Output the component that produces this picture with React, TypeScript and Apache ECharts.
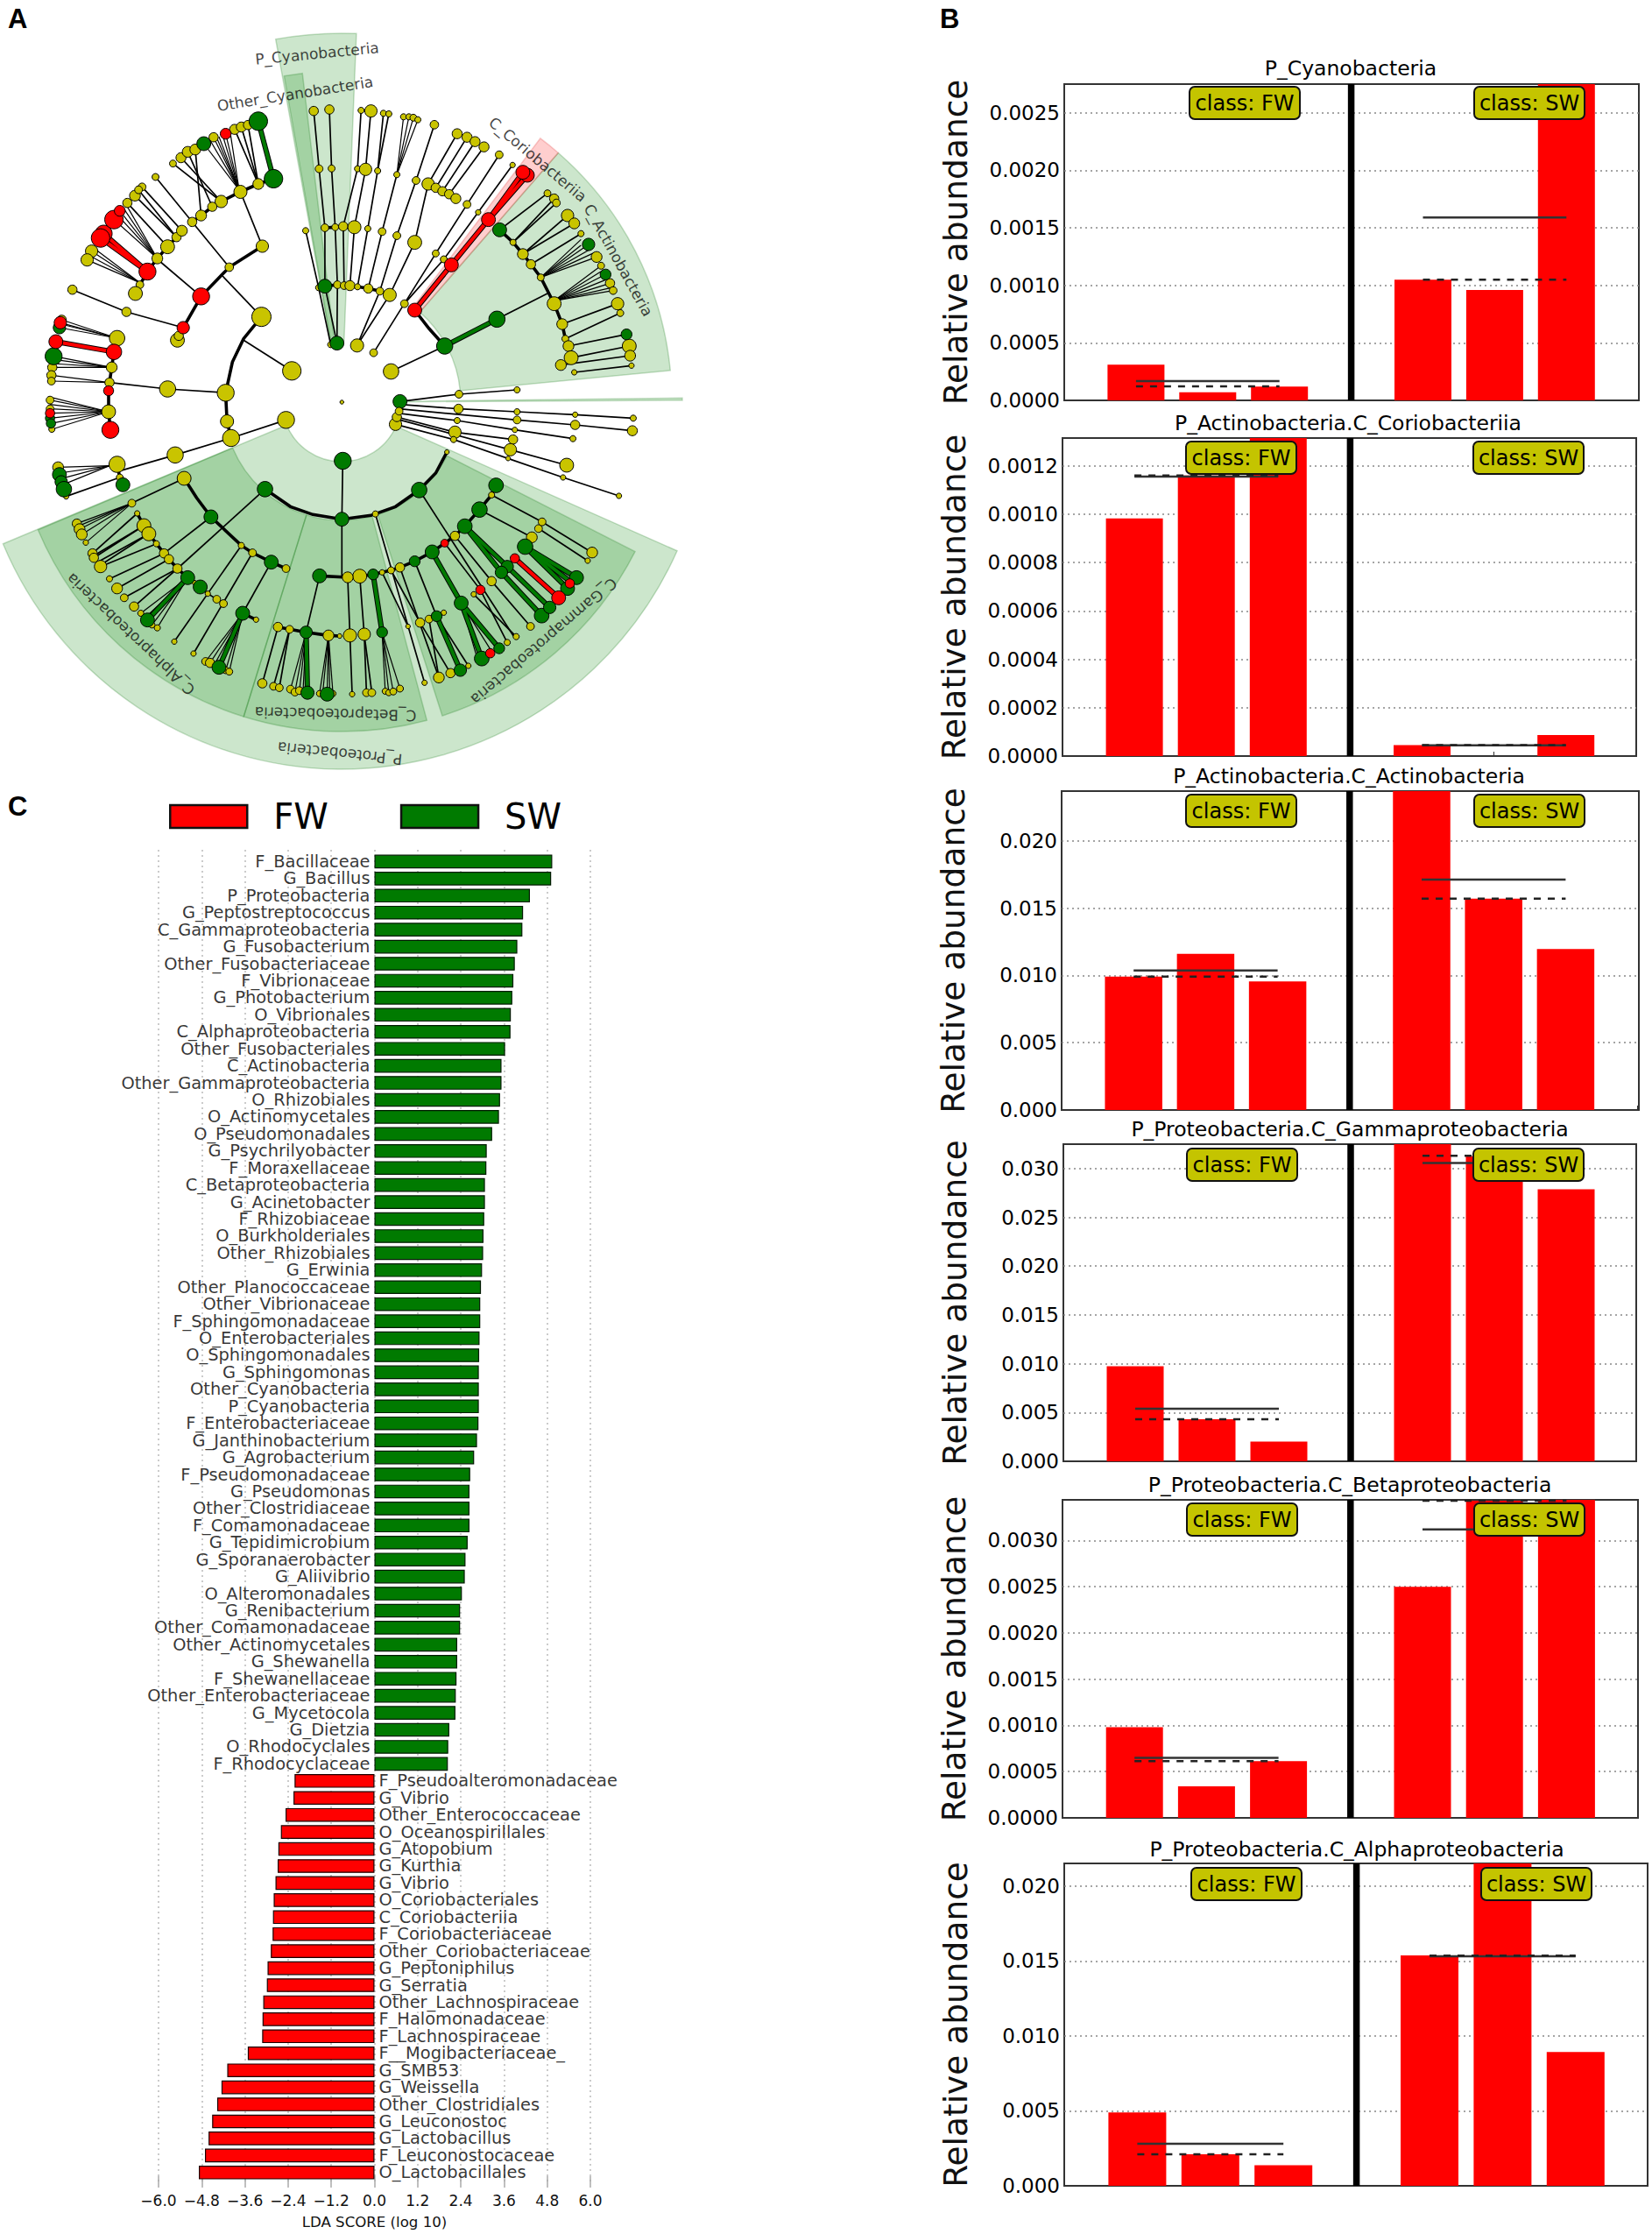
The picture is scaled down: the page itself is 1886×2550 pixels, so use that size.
import React, { useEffect, useRef } from "react";
import * as echarts from "echarts";

const FONT = "DejaVu Sans";
const YEL = "#c9c400";
const GRN = "#007a00";
const RED = "#ff0000";

// ---------- Panel C data ----------
const swTaxa = ["F_Bacillaceae","G_Bacillus","P_Proteobacteria","G_Peptostreptococcus","C_Gammaproteobacteria","G_Fusobacterium","Other_Fusobacteriaceae","F_Vibrionaceae","G_Photobacterium","O_Vibrionales","C_Alphaproteobacteria","Other_Fusobacteriales","C_Actinobacteria","Other_Gammaproteobacteria","O_Rhizobiales","O_Actinomycetales","O_Pseudomonadales","G_Psychrilyobacter","F_Moraxellaceae","C_Betaproteobacteria","G_Acinetobacter","F_Rhizobiaceae","O_Burkholderiales","Other_Rhizobiales","G_Erwinia","Other_Planococcaceae","Other_Vibrionaceae","F_Sphingomonadaceae","O_Enterobacteriales","O_Sphingomonadales","G_Sphingomonas","Other_Cyanobacteria","P_Cyanobacteria","F_Enterobacteriaceae","G_Janthinobacterium","G_Agrobacterium","F_Pseudomonadaceae","G_Pseudomonas","Other_Clostridiaceae","F_Comamonadaceae","G_Tepidimicrobium","G_Sporanaerobacter","G_Aliivibrio","O_Alteromonadales","G_Renibacterium","Other_Comamonadaceae","Other_Actinomycetales","G_Shewanella","F_Shewanellaceae","Other_Enterobacteriaceae","G_Mycetocola","G_Dietzia","O_Rhodocyclales","F_Rhodocyclaceae"];
const swScores = [4.94,4.91,4.32,4.13,4.11,3.97,3.90,3.86,3.83,3.79,3.78,3.63,3.53,3.53,3.49,3.46,3.27,3.12,3.11,3.07,3.07,3.05,3.03,3.02,2.99,2.96,2.94,2.94,2.92,2.91,2.90,2.90,2.90,2.89,2.85,2.77,2.66,2.64,2.64,2.64,2.59,2.53,2.51,2.43,2.38,2.38,2.30,2.30,2.28,2.26,2.25,2.08,2.05,2.04];
const fwTaxa = ["F_Pseudoalteromonadaceae","G_Vibrio","Other_Enterococcaceae","O_Oceanospirillales","G_Atopobium","G_Kurthia","G_Vibrio","O_Coriobacteriales","C_Coriobacteriia","F_Coriobacteriaceae","Other_Coriobacteriaceae","G_Peptoniphilus","G_Serratia","Other_Lachnospiraceae","F_Halomonadaceae","F_Lachnospiraceae","F__Mogibacteriaceae_","G_SMB53","G_Weissella","Other_Clostridiales","G_Leuconostoc","G_Lactobacillus","F_Leuconostocaceae","O_Lactobacillales"];
const fwScores = [-2.22,-2.25,-2.47,-2.60,-2.67,-2.69,-2.75,-2.80,-2.82,-2.83,-2.88,-2.97,-2.99,-3.09,-3.11,-3.12,-3.52,-4.09,-4.25,-4.37,-4.51,-4.61,-4.71,-4.88];

// ---------- Panel B data ----------
const barSlots = [1, 2, 3, 5, 6, 7];
const cyanoBars = [0.00031, 0.00007, 0.00012, 0.00105, 0.00096, 0.00276];
const cyanoMean = [0.000168, 0.00159];
const cyanoMedian = [0.000122, 0.00105];
const corioBars = [0.000983, 0.00116, 0.00134, 0.000045, 0, 0.000087];
const corioMean = [0.001156, 0.000044];
const corioMedian = [0.00116, 0.000045];
const actinoBars = [0.00992, 0.0116, 0.00955, 0.0237, 0.01571, 0.01196];
const actinoMean = [0.01037, 0.01712];
const actinoMedian = [0.00992, 0.01571];
const gammaBars = [0.00974, 0.0043, 0.00203, 0.0325, 0.03126, 0.02788];
const gammaMean = [0.00538, 0.03057];
const gammaMedian = [0.0043, 0.0313];
const betaBars = [0.00098, 0.00034, 0.000614, 0.0025, 0.00343, 0.00345];
const betaMean = [0.00065, 0.00312];
const betaMedian = [0.000614, 0.00343];
const alphaBars = [0.00489, 0.0021, 0.00138, 0.01537, 0.0216, 0.00892];
const alphaMean = [0.0028, 0.01531];
const alphaMedian = [0.0021, 0.01535];

const panels = [
  { title: "P_Cyanobacteria", bars: cyanoBars, mean: cyanoMean, median: cyanoMedian, yMax: 0.00275, step: 0.0005, digits: 4, left: 1215, right: 1871, top: 96, bottom: 457, pitch: 81.9, barW: 65, titleX: 1542, titleY: 80, fwBox: 1358, swBox: 1683, boxY: 99 },
  { title: "P_Actinobacteria.C_Coriobacteriia", bars: corioBars, mean: corioMean, median: corioMedian, yMax: 0.001315, step: 0.0002, digits: 4, left: 1213, right: 1868, top: 500, bottom: 863, pitch: 82.1, barW: 65, titleX: 1539, titleY: 485, fwBox: 1354, swBox: 1682, boxY: 504 },
  { title: "P_Actinobacteria.C_Actinobacteria", bars: actinoBars, mean: actinoMean, median: actinoMedian, yMax: 0.0237, step: 0.005, digits: 3, left: 1212, right: 1871, top: 903, bottom: 1267, pitch: 82.2, barW: 65.5, titleX: 1540, titleY: 888, fwBox: 1354, swBox: 1683, boxY: 907 },
  { title: "P_Proteobacteria.C_Gammaproteobacteria", bars: gammaBars, mean: gammaMean, median: gammaMedian, yMax: 0.0325, step: 0.005, digits: 3, left: 1214, right: 1868, top: 1306, bottom: 1668, pitch: 82, barW: 65, titleX: 1541, titleY: 1291, fwBox: 1355, swBox: 1682, boxY: 1311 },
  { title: "P_Proteobacteria.C_Betaproteobacteria", bars: betaBars, mean: betaMean, median: betaMedian, yMax: 0.00344, step: 0.0005, digits: 4, left: 1213, right: 1870, top: 1712, bottom: 2075, pitch: 82.2, barW: 65, titleX: 1541, titleY: 1697, fwBox: 1355, swBox: 1683, boxY: 1716 },
  { title: "P_Proteobacteria.C_Alphaproteobacteria", bars: alphaBars, mean: alphaMean, median: alphaMedian, yMax: 0.0215, step: 0.005, digits: 3, left: 1215, right: 1881, top: 2127, bottom: 2495, pitch: 83.4, barW: 66, titleX: 1549, titleY: 2113, fwBox: 1360, swBox: 1691, boxY: 2132 },
];

// ---------- Panel A data: sectors [startDeg, endDeg, r0, r1, kind] ----------
const cladeCentre = [390, 459];
const cladeSectors: [number, number, number, number, string][] = [
  [23.9, 157.3, 68, 419, "g"],
  [107.3, 157.2, 135, 376, "g"],
  [75, 107.3, 135, 376, "g"],
  [27, 72.2, 135, 376, "g"],
  [-49, -5.5, 136, 377, "g"],
  [-53, -49, 137, 377, "r"],
  [-0.7, -0.3, 70, 389, "g"],
  [-100.3, -87.7, 70, 421, "g"],
  [-100, -96.8, 70, 378, "g"],
];
const cladeLabels: [string, number, number, number][] = [
  ["P_Cyanobacteria", 362, 61, 5.5],
  ["Other_Cyanobacteria", 337, 107, 9],
  ["C_Coriobacteriia", 614, 182, -40],
  ["C_Actinobacteria", 706, 297, -61],
  ["P_Proteobacteria", 388, 860, 174.4],
  ["C_Gammaproteobacteria", 621, 732, -139.6],
  ["C_Betaproteobacteria", 383, 815, 178.8],
  ["C_Alphaproteobacteria", 149, 724, 136.7],
];

// nodes [x, y, size], upper half of the tree
const topYellow = [[387,560,9],[405,540,13],[420,520,14],[437,512,14],[478,470,12],[525,443,13],[540,435,13],[555,428,12],[578,630,14],[538,657,17],[495,690,16],[475,708,12],[450,738,14],[430,760,12],[348,606,9],[513,915,11],[587,843,16],[585,1085,25],[653,1270,24],[505,1345,22],[283,1068,12],[162,992,12],[397,1165,18],[400,1150,12],[205,860,16],[195,890,16],[313,975,10],[303,1005,18],[375,845,18],[352,885,14],[395,812,12],[407,790,14],[302,670,14],[285,695,12],[318,640,10],[310,650,10],[262,1158,20],[250,1258,14],[245,1310,12],[243,1410,18],[138,1095,12],[117,1258,12],[115,1285,12],[115,1305,10],[112,1370,10],[112,1400,10],[116,1470,8],[375,1332,21],[875,1272,20],[1240,1040,18],[1210,950,9],[1188,905,12],[1170,870,14],[1148,830,8],[1225,662,9],[1240,680,12],[1245,695,10],[1270,738,16],[1285,765,14],[1300,800,8],[1335,880,14],[1345,910,9],[1365,970,12],[1372,995,10],[1382,1040,16],[1388,1072,9],[1408,1185,18],[1410,1218,14],[1413,1252,7],[1258,1110,14],[1265,1160,9],[1272,1185,14],[1278,1225,18],[1255,1250,14],[1285,1275,7],[702,380,12],[737,375,12],[808,378,8],[830,380,16],[858,388,8],[870,390,8],[903,400,8],[915,400,8],[925,403,9],[935,410,8],[972,427,11],[1023,458,13],[1045,470,13],[1063,485,13],[1083,503,13],[1117,530,10],[1147,565,7],[714,578,10],[742,577,9],[800,578,8],[818,580,16],[845,585,8],[888,598,8],[931,618,10],[958,630,16],[975,643,12],[990,655,12],[1005,665,12],[1020,680,13],[1045,700,10],[1070,727,7],[684,790,8],[727,780,10],[750,778,9],[768,775,12],[793,778,17],[823,783,8],[855,793,10],[888,807,10],[928,830,18],[975,868,9],[993,888,9],[713,985,8],[755,975,10],[770,978,10],[783,978,13],[800,982,8],[824,988,12],[850,997,10],[872,1010,17],[905,1040,10],[740,1180,8],[799,1183,17],[836,1208,10],[1027,1350,10],[1157,1335,8],[765,1377,5]];
const topGreen = [[456,492,18],[578,415,24],[612,612,24],[133,1122,16],[120,1220,22],[112,1432,12],[114,1450,12],[995,1185,21],[1112,1093,21],[1118,787,18],[1317,837,16],[1355,940,14],[1402,1145,14],[727,980,18],[754,1175,18],[895,1375,18]];
const topRed = [[505,458,14],[450,1015,22],[410,1122,16],[330,930,22],[232,800,22],[225,815,24],[255,752,24],[268,722,14],[135,1105,16],[125,1170,18],[255,1205,20],[243,1338,13],[247,1472,22],[112,1415,12],[928,1062,18],[1010,907,18],[1093,752,18],[1180,600,18],[1170,590,18]];

const topThin = [[[578,630],[525,443]],[[578,630],[540,435]],[[578,630],[555,428]],[[495,690],[387,560]],[[495,690],[405,540]],[[475,708],[420,520]],[[450,738],[437,512]],[[348,606],[430,760],[513,915]],[[350,885],[450,1015]],[[498,945],[585,1085]],[[538,657],[587,843]],[[545,1165],[653,1270]],[[410,1122],[283,1068],[162,992]],[[505,1345],[375,1332],[245,1310]],[[375,845],[285,695]],[[395,812],[302,670]],[[407,790],[318,640]],[[395,812],[310,650]],[[875,1272],[995,1185]],[[1112,1093],[1225,1005]],[[836,1208],[975,868],[1045,700],[1117,530]],[[905,1040],[993,888],[1070,727],[1147,565]],[[684,790],[713,985],[740,1180]],[[702,380],[714,578],[727,780],[727,980],[754,1175]],[[737,375],[742,577],[750,778],[755,975],[754,1175]],[[808,378],[800,578],[768,775],[770,978]],[[830,380],[818,580],[793,778],[783,978]],[[858,388],[845,585],[823,783],[800,982]],[[870,390],[845,585]],[[888,598],[855,793],[824,988]],[[972,427],[931,618],[888,807],[850,997],[799,1183]],[[1023,458],[958,630],[928,830],[872,1010],[799,1183]],[[1045,470],[975,643]],[[1063,485],[990,655]],[[1083,503],[1005,665]],[[1118,787],[1225,662]],[[1148,830],[1240,680]],[[1148,830],[1245,695]],[[1170,870],[1270,738]],[[1170,870],[1285,765]],[[1188,905],[1300,800]],[[1258,1110],[1382,1040]],[[1265,1160],[1388,1072]],[[1272,1185],[1402,1145]],[[1278,1225],[1408,1185]],[[1255,1250],[1410,1218]],[[1285,1275],[1413,1252]],[[895,1375],[1027,1350],[1157,1335]]];
const topFan = [[[535,650],[456,492]],[[535,650],[470,480]],[[535,650],[478,470]],[[535,650],[485,472]],[[535,650],[490,468]],[[535,650],[498,462]],[[535,650],[505,458]],[[535,650],[515,452]],[[352,885],[255,752]],[[352,885],[262,735]],[[352,885],[268,722]],[[352,885],[275,710]],[[352,885],[282,700]],[[313,968],[205,860]],[[313,968],[210,850]],[[313,968],[200,875]],[[313,968],[195,890]],[[262,1158],[138,1095]],[[262,1158],[135,1105]],[[262,1158],[137,1110]],[[262,1158],[133,1122]],[[250,1258],[120,1220]],[[250,1258],[125,1232]],[[250,1258],[118,1245]],[[250,1258],[117,1258]],[[245,1310],[115,1285]],[[245,1310],[115,1305]],[[243,1410],[113,1360]],[[243,1410],[112,1370]],[[243,1410],[112,1385]],[[243,1410],[112,1400]],[[243,1410],[112,1415]],[[243,1410],[112,1432]],[[243,1410],[114,1450]],[[243,1410],[116,1470]],[[888,598],[903,400]],[[888,598],[915,400]],[[888,598],[925,403]],[[888,598],[935,410]],[[1210,950],[1300,820]],[[1210,950],[1300,840]],[[1210,950],[1317,837]],[[1210,950],[1325,850]],[[1210,950],[1330,865]],[[1210,950],[1335,880]],[[1240,1030],[1345,910]],[[1240,1030],[1350,925]],[[1240,1030],[1355,940]],[[1240,1030],[1360,955]],[[1240,1030],[1365,970]],[[1240,1030],[1368,985]],[[1240,1030],[1372,995]]];
const topThick = [[[430,760],[450,738],[475,708],[495,690],[538,657],[578,630]],[[612,612],[578,630]],[[513,915],[587,843]],[[513,915],[450,1015],[410,1122],[397,1165]],[[585,1085],[545,1160],[520,1240],[505,1345]],[[407,790],[395,812],[375,845],[352,885],[330,930],[313,975],[303,1005]],[[262,1158],[255,1205],[250,1258],[245,1310],[243,1338],[243,1410],[247,1472]],[[928,1062],[960,1125],[995,1185]],[[1118,787],[1148,830],[1170,870],[1188,905],[1210,950],[1240,1040],[1258,1110],[1265,1160]],[[713,985],[727,980],[755,975],[770,978],[783,978],[800,982],[824,988],[850,997],[872,1010]],[[727,780],[750,778],[768,775],[793,778]]];
const topGreenEdges = [[[578,415],[612,612]],[[995,1185],[1112,1093]]];
const topRedEdges = [[[330,930],[225,815]],[[330,930],[232,800]],[[255,1205],[125,1170]],[[928,1062],[1010,907],[1093,752],[1170,590]],[[1093,752],[1180,600]]];

// nodes [x, y, size], lower half of the tree
const botYellow = [[885,103,16],[888,78,12],[893,58,10],[1026,50,12],[1157,60,8],[1287,70,7],[1417,82,8],[1157,88,10],[1287,105,12],[1415,125,13],[1023,90,8],[1152,122,7],[1282,152,8],[1018,130,16],[1148,155,12],[1142,190,16],[1268,243,18],[1015,155,8],[1137,220,6],[1260,285,7],[1385,348,7],[640,88,22],[508,93,17],[517,150,22],[392,208,21],[262,240,21],[268,285,9],[130,250,14],[148,350,7],[412,288,18],[295,373,10],[172,443,12],[178,462,14],[183,480,14],[192,508,7],[307,408,7],[322,450,18],[333,478,18],[350,512,8],[367,545,12],[378,565,12],[397,597,12],[207,545,12],[210,560,12],[225,590,16],[245,632,8],[262,665,14],[278,697,10],[300,727,12],[315,750,8],[340,790,8],[352,800,8],[435,645,6],[465,683,7],[485,702,10],[500,717,10],[540,518,8],[565,543,10],[640,597,10],[573,772,7],[390,847,7],[433,888,7],[460,915,10],[470,920,12],[505,945,9],[513,950,9],[840,410,8],[1000,198,6],[950,988,7],[1100,345,8],[1018,485,12],[895,593,12],[875,603,9],[855,610,7],[805,623,18],[778,627,14],[1190,490,14],[1205,460,10],[1213,437,10],[1325,542,14],[1315,570,7],[1100,640,12],[1060,685,7],[1187,795,10],[1155,830,8],[1135,850,8],[960,770,10],[940,782,12],[993,748,7],[913,795,6],[1048,930,7],[1008,955,12],[982,970,14],[622,797,12],[648,805,10],[735,826,14],[760,828,6],[587,990,12],[612,1000,10],[625,1005,10],[650,1010,10],[660,1020,10],[670,1015,10],[715,1025,8],[745,1025,8],[783,826,17],[788,1027,7],[815,822,16],[820,1022,10],[832,1022,10],[862,1017,8],[870,1022,8],[880,1018,9],[895,1008,9]];
const botGreen = [[767,228,22],[765,428,18],[593,325,20],[938,328,20],[472,420,18],[607,575,18],[420,628,18],[448,660,18],[330,773,18],[543,750,18],[490,935,18],[133,275,18],[137,300,16],[143,325,20],[275,310,18],[1110,312,19],[1073,395,20],[1040,452,19],[967,540,18],[928,572,14],[835,617,14],[715,622,18],[1212,758,19],[1230,730,16],[1135,590,16],[1122,610,16],[1175,522,20],[1290,628,18],[1270,665,18],[1032,715,18],[1117,870,14],[1078,905,19],[977,760,14],[1030,945,16],[685,815,16],[688,1022,17],[732,1027,18],[855,815,14]];
const botRed = [[995,510,10],[1152,562,12],[1250,697,18],[1275,648,12],[1075,670,12],[1097,887,12]];

const botThin = [[[895,35],[1026,50],[1157,60],[1287,70],[1417,82]],[[893,50],[1157,88],[1287,105],[1415,125]],[[890,65],[1023,90],[1152,122],[1282,152]],[[888,78],[1018,130],[1148,155]],[[888,85],[1142,190],[1268,243]],[[885,103],[1015,155],[1137,220],[1260,285],[1385,348]],[[767,228],[765,428],[765,625]],[[840,410],[950,988]],[[938,328],[1150,830]],[[593,325],[397,597]],[[472,420],[367,545]],[[412,288],[295,373]],[[640,88],[517,150],[392,208],[262,265]],[[268,285],[148,350]],[[307,408],[207,545]],[[322,450],[210,560]],[[322,450],[215,548]],[[333,478],[218,575]],[[333,478],[225,585]],[[350,512],[225,590]],[[367,545],[245,632]],[[378,565],[262,665]],[[397,597],[278,697]],[[397,597],[300,727]],[[448,660],[465,683],[485,702],[500,717]],[[540,518],[390,847]],[[565,543],[433,888]],[[607,575],[543,750]],[[715,622],[685,815]],[[622,797],[587,990]],[[648,805],[612,1000]],[[648,805],[625,1005]],[[778,627],[783,826],[788,1027]],[[805,623],[815,822],[820,1022]],[[815,822],[832,1022]],[[1100,345],[1213,437],[1325,542]],[[1073,395],[1190,490]],[[1205,460],[1315,570]],[[1018,485],[1100,640],[1187,795]],[[995,510],[1075,670],[1135,850]],[[1060,685],[1155,830]],[[928,572],[977,760]],[[895,593],[982,970]],[[875,603],[940,782],[1008,955]],[[855,610],[913,795]],[[977,760],[1048,930]],[[960,770],[982,970]]];
const botFan = [[[245,245],[130,250]],[[245,245],[133,270]],[[245,245],[135,290]],[[245,245],[140,310]],[[295,373],[172,443]],[[295,373],[175,452]],[[295,373],[178,462]],[[295,373],[183,480]],[[295,373],[192,508]],[[420,628],[315,750]],[[420,628],[325,765]],[[420,628],[340,790]],[[420,628],[352,800]],[[543,750],[460,915]],[[543,750],[470,920]],[[543,750],[480,925]],[[543,750],[505,945]],[[543,750],[513,950]],[[685,815],[650,1010]],[[685,815],[660,1020]],[[685,815],[670,1015]],[[685,815],[678,1020]],[[735,826],[715,1025]],[[735,826],[722,1025]],[[735,826],[732,1027]],[[735,826],[738,1025]],[[735,826],[745,1025]],[[855,815],[862,1017]],[[855,815],[870,1022]],[[855,815],[880,1018]],[[855,815],[895,1008]],[[1032,715],[1065,890]],[[1032,715],[1072,895]],[[1032,715],[1100,880]]];
const botThick = [[[593,325],[650,385],[700,412],[765,428],[830,415],[885,385],[938,328],[975,270],[1000,198]],[[412,288],[440,355],[472,420],[540,518],[565,543],[607,575],[640,597]],[[307,408],[322,450],[333,478],[350,512],[367,545],[378,565],[397,597],[420,628],[448,660]],[[715,622],[778,627],[805,623],[835,617],[855,610],[875,603],[895,593],[928,572],[967,540],[995,510],[1018,485],[1040,452],[1073,395],[1100,345],[1110,312]],[[622,797],[648,805],[685,815],[735,826],[760,828]],[[505,0],[508,93],[517,150]],[[262,240],[268,285],[275,310]],[[543,750],[573,772]]];
const botGreenEdges = [[[1040,452],[1135,590],[1230,730]],[[1040,452],[1122,610],[1212,758]],[[1175,522],[1290,628]],[[1175,522],[1270,665]],[[1175,522],[1275,640]],[[967,540],[1032,715],[1117,870]],[[1032,715],[1078,905]],[[977,760],[1030,945]],[[420,628],[330,773]],[[543,750],[490,935]],[[685,815],[688,1022]],[[835,617],[855,815]]];
const botRedEdges = [[[1152,562],[1250,697]]];

function buildOption() {
  const grid: any[] = [];
  const xAxis: any[] = [];
  const yAxis: any[] = [];
  const series: any[] = [];
  const title: any[] = [];
  const graphic: any[] = [];
  const hidden = { show: false };

  const addHiddenGrid = (left: number, top: number, width: number, height: number, xMax: number, yMax: number) => {
    grid.push({ left, top, width, height });
    const i = grid.length - 1;
    xAxis.push({ type: "value", gridIndex: i, min: 0, max: xMax, ...hidden });
    yAxis.push({ type: "value", gridIndex: i, min: 0, max: yMax, inverse: true, ...hidden });
    return i;
  };

  // ---------- Panel A ----------
  const pixelGrid = addHiddenGrid(0, 0, 800, 900, 800, 900);
  series.push({
    type: "custom",
    name: "clades",
    xAxisIndex: pixelGrid,
    yAxisIndex: pixelGrid,
    clip: false,
    silent: true,
    data: cladeSectors.map((s) => [cladeCentre[0], cladeCentre[1], s[0], s[1], s[2], s[3], s[4]]),
    renderItem: (_: any, api: any) => {
      const c = api.coord([api.value(0), api.value(1)]);
      const pink = api.value(6) === "r";
      return {
        type: "sector",
        shape: {
          cx: c[0],
          cy: c[1],
          r0: api.value(4),
          r: api.value(5),
          startAngle: (api.value(2) * Math.PI) / 180,
          endAngle: (api.value(3) * Math.PI) / 180,
          clockwise: true,
        },
        style: {
          fill: pink ? "rgba(255,60,60,0.25)" : "rgba(0,128,0,0.2)",
          stroke: pink ? "rgba(230,80,80,0.3)" : "rgba(0,110,0,0.22)",
          lineWidth: 1.5,
        },
      };
    },
  });

  const topGrid = addHiddenGrid(0, 0, 800, 500, 1568, 1500);
  const botGrid = addHiddenGrid(0, 450, 800, 450, 1568, 1350);

  const addEdges = (name: string, edges: number[][][], idx: number, color: string, width: number) => {
    series.push({
      type: "lines",
      name,
      coordinateSystem: "cartesian2d",
      xAxisIndex: idx,
      yAxisIndex: idx,
      polyline: true,
      silent: true,
      lineStyle: { color, width, opacity: 1, curveness: 0 },
      data: edges.map((coords) => ({ coords })),
    });
  };
  const addNodes = (name: string, nodes: number[][], idx: number, color: string) => {
    series.push({
      type: "scatter",
      name,
      xAxisIndex: idx,
      yAxisIndex: idx,
      silent: true,
      clip: false,
      symbolSize: (v: number[]) => v[2] * 0.88,
      itemStyle: { color, borderColor: "#000", borderWidth: 1, opacity: 1 },
      data: nodes,
    });
  };
  const region = (idx: number, thin: number[][][], fan: number[][][], thick: number[][][], ge: number[][][], re: number[][][], y: number[][], g: number[][], r: number[][], tag: string) => {
    addEdges(tag + " fan", fan, idx, "#000", 1.2);
    addEdges(tag + " thin", thin, idx, "#000", 1.7);
    addEdges(tag + " thick", thick, idx, "#000", 3.6);
    addEdges(tag + " green outline", ge, idx, "#000", 6);
    addEdges(tag + " red outline", re, idx, "#000", 6);
    addEdges(tag + " green edges", ge, idx, GRN, 4);
    addEdges(tag + " red edges", re, idx, RED, 4);
    addNodes(tag + " yellow nodes", y, idx, YEL);
    addNodes(tag + " green nodes", g, idx, GRN);
    addNodes(tag + " red nodes", r, idx, RED);
  };
  region(topGrid, topThin, topFan, topThick, topGreenEdges, topRedEdges, topYellow, topGreen, topRed, "upper");
  region(botGrid, botThin, botFan, botThick, botGreenEdges, botRedEdges, botYellow, botGreen, botRed, "lower");

  series.push({
    type: "scatter",
    name: "clade labels",
    xAxisIndex: pixelGrid,
    yAxisIndex: pixelGrid,
    symbolSize: 0,
    silent: true,
    data: cladeLabels.map((l) => ({
      value: [l[1], l[2]],
      name: l[0],
      label: { rotate: l[3] },
    })),
    label: {
      show: true,
      formatter: "{b}",
      position: "inside",
      align: "center",
      verticalAlign: "middle",
      fontFamily: FONT,
      fontSize: 17,
      color: "#111",
    },
  });

  // ---------- Panel C ----------
  const lda = { min: -6, max: 6, interval: 1.2 };
  grid.push({ left: 181, top: 970, width: 493, height: 1520 });
  const frame = grid.length - 1;
  xAxis.push({
    type: "value", gridIndex: frame, ...lda, position: "bottom",
    name: "LDA SCORE (log 10)", nameLocation: "middle", nameGap: 38,
    nameTextStyle: { fontFamily: FONT, fontSize: 16.6, color: "#111" },
    axisLine: { show: false },
    axisTick: { show: true, length: 7, lineStyle: { color: "#aaa", width: 1.5 } },
    axisLabel: {
      fontFamily: FONT, fontSize: 17, color: "#111", margin: 13,
      formatter: (v: number) => v.toFixed(1).replace("-", "\u2212"),
    },
    splitLine: { show: true, lineStyle: { type: [2, 4], color: "#bbb", width: 1.5 } },
  });
  yAxis.push({ type: "value", gridIndex: frame, min: 0, max: 1, show: false });
  grid.push({ left: 181, top: 970, width: 493, height: 1520 });
  const frameTop = grid.length - 1;
  xAxis.push({
    type: "value", gridIndex: frameTop, ...lda, position: "top",
    axisLine: { show: false },
    axisLabel: { show: false },
    axisTick: { show: true, length: 6, lineStyle: { color: "#aaa", width: 1.5 } },
    splitLine: { show: false },
  });
  yAxis.push({ type: "value", gridIndex: frameTop, min: 0, max: 1, show: false });

  grid.push({ left: 181, top: 973.7, width: 493, height: 1515.8 });
  const barsGrid = grid.length - 1;
  const taxa = [...swTaxa, ...fwTaxa];
  xAxis.push({ type: "value", gridIndex: barsGrid, ...lda, show: false });
  yAxis.push({ type: "category", gridIndex: barsGrid, data: taxa, inverse: true, show: false });
  const barBase = {
    type: "bar",
    xAxisIndex: barsGrid,
    yAxisIndex: barsGrid,
    barWidth: 15.6,
    barGap: "-100%",
    silent: true,
  };
  series.push({
    ...barBase, name: "FW",
    itemStyle: { color: RED, borderColor: "#1a0000", borderWidth: 1.2 },
    data: [...swTaxa.map(() => "-"), ...fwScores],
  });
  series.push({
    ...barBase, name: "SW",
    itemStyle: { color: GRN, borderColor: "#001a00", borderWidth: 1.2 },
    data: [...swScores, ...fwTaxa.map(() => "-")],
  });
  series.push({
    type: "scatter",
    name: "taxa",
    xAxisIndex: barsGrid,
    yAxisIndex: barsGrid,
    symbolSize: 0,
    silent: true,
    label: { show: true, formatter: "{b}", fontFamily: FONT, fontSize: 19.4, color: "#000", distance: 5 },
    data: taxa.map((name, i) => ({
      value: [0, i],
      name,
      label: { position: i < swTaxa.length ? "left" : "right" },
    })),
  });

  // ---------- Panel B ----------
  panels.forEach((p) => {
    const width = p.right - p.left;
    const height = p.bottom - p.top;
    grid.push({ left: p.left, top: p.top, width, height, show: true, borderColor: "#333", borderWidth: 2, backgroundColor: "transparent" });
    const i = grid.length - 1;
    xAxis.push({
      type: "value", gridIndex: i, min: 0, max: width / p.pitch, interval: 2,
      axisLine: { show: true, lineStyle: { color: "#333", width: 2 } },
      axisTick: { show: true, inside: true, length: 5, lineStyle: { color: "#333" } },
      axisLabel: { show: false },
      splitLine: { show: false },
    });
    yAxis.push({
      type: "value", gridIndex: i, min: 0, max: p.yMax, interval: p.step,
      name: "Relative abundance", nameLocation: "middle", nameRotate: 90, nameGap: 105,
      nameTextStyle: { fontFamily: FONT, fontSize: 37.5, color: "#111" },
      axisLine: { show: false },
      axisTick: { show: false },
      axisLabel: {
        fontFamily: FONT, fontSize: 23, color: "#000", margin: 5,
        formatter: (v: number) => {
          const k = v / p.step;
          return Math.abs(k - Math.round(k)) < 1e-6 ? v.toFixed(p.digits) : "";
        },
      },
      splitLine: { show: true, showMinLine: false, showMaxLine: false, lineStyle: { type: [2, 4], color: "#888", width: 1.6 } },
    });
    series.push({
      type: "bar", name: p.title + " samples", xAxisIndex: i, yAxisIndex: i,
      barWidth: p.barW, silent: true,
      itemStyle: { color: RED },
      data: p.bars.map((v, k) => [barSlots[k], v]),
    });
    const segment = (name: string, data: number[][], style: any) => {
      series.push({
        type: "line", name, xAxisIndex: i, yAxisIndex: i, silent: true,
        symbol: "none", showSymbol: false, lineStyle: style, data,
      });
    };
    segment(p.title + " divider", [[4, 0], [4, p.yMax]], { color: "#000", width: 7.5 });
    const solid = { color: "#333", width: 2.5 };
    const dash = { color: "#222", width: 2.5, type: [8, 8] };
    segment(p.title + " FW mean", [[1, p.mean[0]], [3, p.mean[0]]], solid);
    segment(p.title + " SW mean", [[5, p.mean[1]], [7, p.mean[1]]], solid);
    segment(p.title + " FW median", [[1, p.median[0]], [3, p.median[0]]], dash);
    segment(p.title + " SW median", [[5, p.median[1]], [7, p.median[1]]], dash);

    title.push({
      text: p.title, left: p.titleX, top: p.titleY - 14, textAlign: "center", padding: 0,
      textStyle: { fontFamily: FONT, fontSize: 23.5, fontWeight: "normal", color: "#000" },
    });
    [["class: FW", p.fwBox], ["class: SW", p.swBox]].forEach(([text, x]: any) => {
      graphic.push({
        type: "rect", z: 100,
        shape: { x, y: p.boxY, width: 126, height: 37, r: 6 },
        style: { fill: "#c4c400", stroke: "#111", lineWidth: 2 },
      });
      graphic.push({
        type: "text", z: 101, x: x + 63, y: p.boxY + 18.5,
        style: { text, fontFamily: FONT, fontSize: 24, fill: "#000", align: "center", verticalAlign: "middle" },
      });
    });
  });

  [["A", 9, 21], ["B", 1073, 21], ["C", 9, 920]].forEach(([text, x, y]: any) => {
    graphic.push({
      type: "text", z: 101, x, y,
      style: { text, fontFamily: "Liberation Sans", fontWeight: "bold", fontSize: 31, fill: "#000", align: "left", verticalAlign: "middle" },
    });
  });

  return {
    animation: false,
    backgroundColor: "#fff",
    title,
    grid,
    xAxis,
    yAxis,
    series,
    graphic,
    tooltip: { show: false },
    legend: {
      data: ["FW", "SW"],
      left: 193,
      top: 912,
      padding: 0,
      itemWidth: 88,
      itemHeight: 26,
      itemGap: 82,
      selectedMode: false,
      icon: "rect",
      itemStyle: { borderColor: "#111", borderWidth: 2.5 },
      textStyle: { fontFamily: FONT, fontSize: 40, color: "#000", padding: [0, 0, 0, 25] },
    },
  };
}

export default function App() {
  const ref = useRef<HTMLDivElement>(null);
  useEffect(() => {
    const chart = echarts.init(ref.current!, undefined, { renderer: "svg" });
    chart.setOption(buildOption() as any);
    return () => chart.dispose();
  }, []);
  return <div ref={ref} style={{ position: "absolute", left: 0, top: 0, width: 1886, height: 2550 }} />;
}
